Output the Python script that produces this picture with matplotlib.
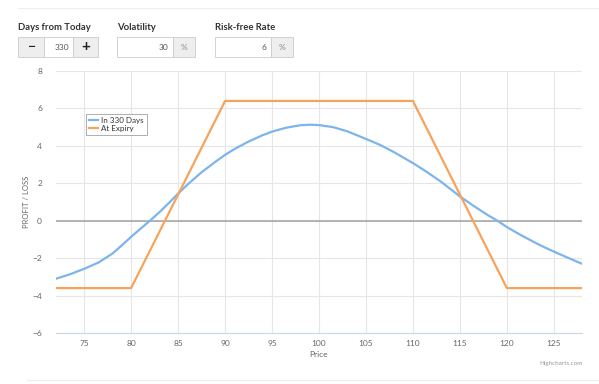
import matplotlib

matplotlib.use("Agg")

import matplotlib.pyplot as plt
from matplotlib.patches import Rectangle

BLUE = "#7cb5ec"
ORANGE = "#f7a35c"
GRID = "#e6e6e6"
TEXT = "#666666"

# payoff at expiry (condor) – corner points
expiry_price = [72, 80, 90, 110, 120, 128]
expiry_pl = [-3.6, -3.6, 6.4, 6.4, -3.6, -3.6]

# value in 330 days
days_price = [72, 73.5, 75, 76.5, 78, 79, 80, 81, 82, 83, 84, 85, 86, 87.5, 89, 90,
              91, 92.5, 94, 95, 96.5, 98, 99, 100, 101.5, 103, 105, 106.5, 108, 110,
              111.5, 113, 115, 116.5, 118, 119, 120, 121.5, 123, 124, 125, 126.5, 128]
days_pl = [-3.10, -2.86, -2.57, -2.24, -1.76, -1.32, -0.86, -0.43, 0.00, 0.45, 0.94, 1.45,
           1.93, 2.59, 3.16, 3.52, 3.83, 4.23, 4.57, 4.76, 4.97, 5.10, 5.13, 5.11, 5.00,
           4.78, 4.37, 4.05, 3.66, 3.08, 2.60, 2.08, 1.30, 0.78, 0.29, 0.00, -0.34, -0.77,
           -1.17, -1.42, -1.65, -1.98, -2.30]

x_ticks = [75, 80, 85, 90, 95, 100, 105, 110, 115, 120, 125]
y_ticks = [-6, -4, -2, 0, 2, 4, 6, 8]

W, H = 599, 384
fig = plt.figure(figsize=(W / 100, H / 100), dpi=100)
plt.rcParams["font.family"] = ["Lato", "DejaVu Sans"]


def px(x, y, w, h):
    return [x / W, 1 - (y + h) / H, w / W, h / H]


# ---- top controls ----
fig.add_artist(plt.Line2D([18 / W, 1], [1 - 8 / H] * 2, color="#eeeeee", lw=0.8))
fig.add_artist(plt.Line2D([27 / W, 1], [1 - 380 / H] * 2, color="#eeeeee", lw=0.8))

for lx, lab in [(18, "Days from Today"), (117, "Volatility"), (215, "Risk-free Rate")]:
    fig.text(lx / W, 1 - 27 / H, lab, fontsize=6.8, fontweight="bold", color="#333333", va="center")


def box(x, y, w, h, fc):
    fig.add_artist(Rectangle((x / W, 1 - (y + h) / H), w / W, h / H, transform=fig.transFigure,
                             facecolor=fc, edgecolor="#cccccc", lw=0.6))


box(18, 37, 26, 20, "#eeeeee")
box(44, 37, 29, 20, "white")
box(73, 37, 25, 20, "#eeeeee")
fig.text(31 / W, 1 - 47 / H, "\u2212", fontsize=10, fontweight="bold", ha="center", va="center", color="#222222")
fig.text(85.5 / W, 1 - 47 / H, "+", fontsize=11, fontweight="bold", ha="center", va="center", color="#222222")
fig.text(69 / W, 1 - 47 / H, "330", fontsize=6, ha="right", va="center", color="#555555")

for bx, val in [(117, "30"), (215, "6")]:
    box(bx, 37, 56, 20, "white")
    box(bx + 56, 37, 22, 20, "#eeeeee")
    fig.text((bx + 51) / W, 1 - 47 / H, val, fontsize=6, ha="right", va="center", color="#555555")
    fig.text((bx + 67) / W, 1 - 47 / H, "%", fontsize=6, ha="center", va="center", color="#888888")

# ---- chart ----
ax = fig.add_axes(px(56, 71, 526, 262))
ax.plot(days_price, days_pl, color=BLUE, lw=1.6, label="In 330 Days", zorder=3)
ax.plot(expiry_price, expiry_pl, color=ORANGE, lw=1.6, label="At Expiry", zorder=3)
ax.axhline(0, color="#a8a8a8", lw=1.2, zorder=2)

ax.set_xlim(72, 128)
ax.set_ylim(-6, 8)
ax.set_xticks(x_ticks)
ax.set_yticks(y_ticks)
ax.grid(True, color=GRID, lw=0.8)
ax.set_axisbelow(True)
for s in ["top", "right", "left"]:
    ax.spines[s].set_visible(False)
ax.spines["bottom"].set_color("#ccd6eb")
ax.spines["bottom"].set_linewidth(0.8)
ax.tick_params(length=0, labelsize=6, colors=TEXT)
ax.tick_params(axis="x", pad=5)
ax.tick_params(axis="y", pad=10)
ax.set_xlabel("Price", fontsize=6, color=TEXT, labelpad=3)
ax.set_ylabel("PROFIT / LOSS", fontsize=5.5, color=TEXT)
ax.yaxis.set_label_coords((30 - 56) / 526, 0.5)

leg = ax.legend(loc="upper left", bbox_to_anchor=((86 - 56) / 526, (333 - 114) / 262),
                fontsize=5.8, frameon=True, fancybox=False, handlelength=1.1,
                borderpad=0.35, labelspacing=0.15, handletextpad=0.45, borderaxespad=0)
leg.get_frame().set_edgecolor("#999999")
leg.get_frame().set_linewidth(0.7)
for t in leg.get_texts():
    t.set_color("#333333")

fig.text(583 / W, 1 - 364 / H, "Highcharts.com", fontsize=4.5, ha="right", va="center", color="#999999")

fig.savefig("out.png", dpi=100)
